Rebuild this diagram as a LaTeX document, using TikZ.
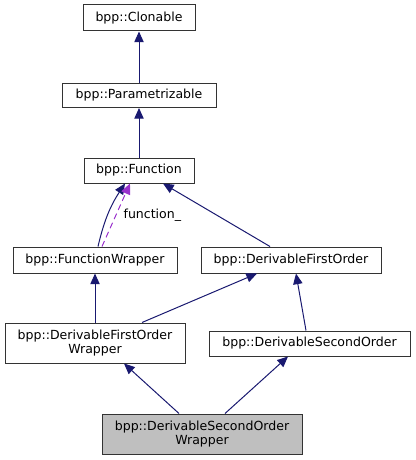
\documentclass[tikz,border=0pt]{standalone}
\usepackage{fontspec}
\setmainfont{DejaVu Sans}
\usetikzlibrary{arrows.meta,calc}
\definecolor{edgeblue}{HTML}{191970}
\definecolor{edgepurple}{HTML}{9A32CD}
\definecolor{hlgray}{HTML}{BFBFBF}
\begin{document}
\begin{tikzpicture}[x=0.75pt,y=-0.75pt,
  cls/.style={draw=black!80,fill=white,line width=0.75pt,inner sep=0pt,align=center,
    font=\fontsize{9.4}{10.5}\selectfont},
  inh/.style={draw=edgeblue,line width=0.75pt,-{Triangle[length=8pt,width=7pt]},color=edgeblue},
  use/.style={draw=edgepurple,line width=0.75pt,dashed,dash pattern=on 4.5pt off 3pt,
    -{Triangle[length=8pt,width=7pt]},color=edgepurple}]
\useasboundingbox (0,0) rectangle (415,460);
\node[cls,minimum width=84pt,minimum height=19.5pt] (clo) at (139,18) {bpp::Clonable};
\node[cls,minimum width=115.5pt,minimum height=18pt] (par) at (139,95.5) {bpp::Parametrizable};
\node[cls,minimum width=82.5pt,minimum height=18.75pt] (fn) at (139,170.5) {bpp::Function};
\node[cls,minimum width=123pt,minimum height=19.5pt] (fw) at (95,260) {bpp::FunctionWrapper};
\node[cls,minimum width=135pt,minimum height=19.5pt] (dfo) at (291,260) {bpp::DerivableFirstOrder};
\node[cls,minimum width=135pt,minimum height=30pt] (dfow) at (95,343) {bpp::DerivableFirstOrder\\Wrapper};
\node[cls,minimum width=150.75pt,minimum height=18.75pt] (dso) at (309.5,343.5) {bpp::DerivableSecondOrder};
\node[cls,fill=hlgray,minimum width=150pt,minimum height=30pt] (dsow) at (202,434) {bpp::DerivableSecondOrder\\Wrapper};
\draw[inh] (par.north) -- (clo.south);
\draw[inh] (fn.north) -- (par.south);
\draw[inh] ($(fw.north)+(3,0)$) to[bend left=10] ($(fn.south)+(-14,0)$);
\draw[use] ($(fw.north)+(7,0)$) -- ($(fn.south)+(-9,0)$)
  node[pos=0.5,anchor=west,text=black,font=\fontsize{9.4}{10.5}\selectfont,xshift=2pt] (lbl) {function\_};
\draw[inh] ($(dfo.north)+(-21,0)$) -- ($(fn.south)+(24,0)$);
\draw[inh] (dfow.north) -- (fw.south);
\draw[inh] ($(dfow.north)+(47,0)$) -- ($(dfo.south)+(-34,0)$);
\draw[inh] ($(dso.north)+(-3.5,0)$) -- ($(dfo.south)+(5,0)$);
\draw[inh] ($(dsow.north)+(-23,0)$) -- ($(dfow.south)+(29,0)$);
\draw[inh] ($(dsow.north)+(23,0)$) -- ($(dso.south)+(-21.5,0)$);
\end{tikzpicture}
\end{document}
